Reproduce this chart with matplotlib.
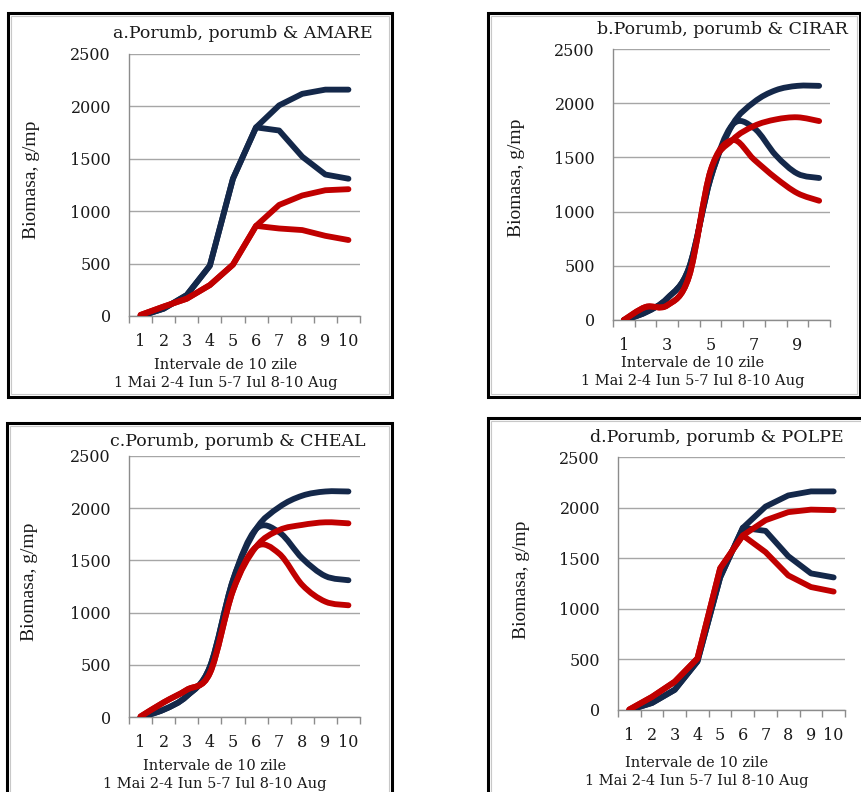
import matplotlib.pyplot as plt
from matplotlib.path import Path
from matplotlib.patches import PathPatch, Rectangle

plt.rcParams["font.family"] = ["DejaVu Serif"]

W, H = 862, 792

intervals = [1, 2, 3, 4, 5, 6, 7, 8, 9, 10]

# porumb (control) - same in all panels
navy_high = [0, 70, 200, 480, 1310, 1800, 2010, 2120, 2160, 2160]
navy_low = [0, 70, 200, 480, 1310, 1800, 1770, 1520, 1350, 1310]

# mixed crop series per panel
red_a_high = [10, 90, 165, 295, 490, 860, 1060, 1150, 1200, 1210]
red_a_low = [10, 90, 165, 295, 490, 860, 835, 820, 765, 725]
red_b_high = [0, 120, 135, 400, 1380, 1660, 1790, 1850, 1870, 1835]
red_b_low = [0, 120, 135, 400, 1380, 1660, 1480, 1310, 1170, 1100]
red_c_high = [5, 140, 260, 420, 1210, 1630, 1790, 1840, 1865, 1855]
red_c_low = [5, 140, 260, 420, 1210, 1630, 1565, 1265, 1105, 1070]
red_d_high = [5, 130, 280, 510, 1400, 1725, 1875, 1955, 1980, 1975]
red_d_low = [5, 130, 280, 510, 1400, 1725, 1560, 1330, 1215, 1170]

NAVY = "#14284a"
RED = "#c00000"
GRID = "#a6a6a6"
AXIS = "#8c8c8c"
TXT = "#1a1a1a"


def smooth_path(xs, ys):
    # Bezier path through the data points (like Excel "smoothed line")
    pts = list(zip(xs, ys))
    verts = [pts[0]]
    codes = [Path.MOVETO]
    n = len(pts)
    for i in range(n - 1):
        p0 = pts[max(i - 1, 0)]
        p1 = pts[i]
        p2 = pts[i + 1]
        p3 = pts[min(i + 2, n - 1)]
        c1 = (p1[0] + (p2[0] - p0[0]) / 6, p1[1] + (p2[1] - p0[1]) / 6)
        c2 = (p2[0] - (p3[0] - p1[0]) / 6, p2[1] - (p3[1] - p1[1]) / 6)
        verts += [c1, c2, p2]
        codes += [Path.CURVE4] * 3
    return Path(verts, codes)


def draw_line(ax, ys, color, smooth):
    if smooth:
        patch = PathPatch(smooth_path(intervals, ys), fill=False, edgecolor=color,
                          lw=4.2, capstyle="round", joinstyle="round", zorder=3)
        ax.add_patch(patch)
    else:
        ax.plot(intervals, ys, color=color, lw=4.2, solid_joinstyle="round",
                solid_capstyle="round", zorder=3)


def panel(box, rect, title, title_xy, red_high, red_low, smooth, odd_only,
          ylab_xy, xlab_xy):
    # border box in pixels (left, top, right, bottom)
    l, t, r, b = box
    fig.patches.append(Rectangle((l / W, 1 - b / H), (r - l) / W, (b - t) / H,
                                 transform=fig.transFigure, fill=False,
                                 edgecolor="black", lw=2.2))
    fig.patches.append(Rectangle(((l + 3) / W, 1 - (b - 3) / H), (r - l - 6) / W,
                                 (b - t - 6) / H, transform=fig.transFigure,
                                 fill=False, edgecolor="#c8c8c8", lw=0.8))

    x0, y0, x1, y1 = rect
    ax = fig.add_axes([x0 / W, 1 - y1 / H, (x1 - x0) / W, (y1 - y0) / H])
    ax.set_xlim(0.5, 10.5)
    ax.set_ylim(0, 2500)

    draw_line(ax, navy_low, NAVY, smooth)
    draw_line(ax, navy_high, NAVY, smooth)
    draw_line(ax, red_low, RED, smooth)
    draw_line(ax, red_high, RED, smooth)

    ax.set_yticks([0, 500, 1000, 1500, 2000, 2500])
    ax.yaxis.grid(True, color=GRID, lw=1)
    ax.set_axisbelow(True)
    if odd_only:
        ax.set_xticks([1, 3, 5, 7, 9])
    else:
        ax.set_xticks(intervals)
    ax.set_xticks([i + 0.5 for i in range(0, 11)], minor=True)
    ax.tick_params(axis="x", which="major", length=0, pad=12, labelsize=11.5,
                   labelcolor=TXT)
    ax.tick_params(axis="x", which="minor", length=5, color=AXIS, width=1)
    ax.tick_params(axis="y", length=0, pad=13, labelsize=11.5, labelcolor=TXT)
    for s in ["top", "right"]:
        ax.spines[s].set_visible(False)
    for s in ["left", "bottom"]:
        ax.spines[s].set_color(AXIS)
        ax.spines[s].set_linewidth(1)

    fig.text(title_xy[0] / W, 1 - title_xy[1] / H, title, ha="center",
             va="center", fontsize=12.5, color=TXT)
    fig.text(ylab_xy[0] / W, 1 - ylab_xy[1] / H, "Biomasa, g/mp", rotation=90,
             ha="center", va="center", fontsize=14, color=TXT,
             family="Liberation Serif")
    fig.text(xlab_xy[0] / W, 1 - xlab_xy[1] / H, "Intervale de 10 zile",
             ha="center", va="center", fontsize=10.5, color=TXT)
    fig.text(xlab_xy[0] / W, 1 - (xlab_xy[1] + 18) / H,
             "1 Mai 2-4 Iun 5-7 Iul 8-10 Aug",
             ha="center", va="center", fontsize=10.5, color=TXT)


fig = plt.figure(figsize=(W / 100, H / 100), dpi=100)
fig.patch.set_facecolor("white")

panel((8, 13, 392, 397), (129, 54, 360, 316), "a.Porumb, porumb & AMARE",
      (243, 33), red_a_high, red_a_low, False, False, (32, 180), (226, 365))
panel((488, 13, 860, 397), (613, 49, 830, 320), "b.Porumb, porumb & CIRAR",
      (722, 30), red_b_high, red_b_low, True, True, (517, 178), (693, 363))
panel((7, 423, 392, 800), (129, 456, 360, 717), "c.Porumb, porumb & CHEAL",
      (238, 442), red_c_high, red_c_low, True, False, (30, 582), (215, 766))
panel((488, 418, 870, 800), (618, 457, 845, 710), "d.Porumb, porumb & POLPE",
      (717, 438), red_d_high, red_d_low, False, False, (522, 580), (697, 763))

fig.savefig("out.png", dpi=100)
